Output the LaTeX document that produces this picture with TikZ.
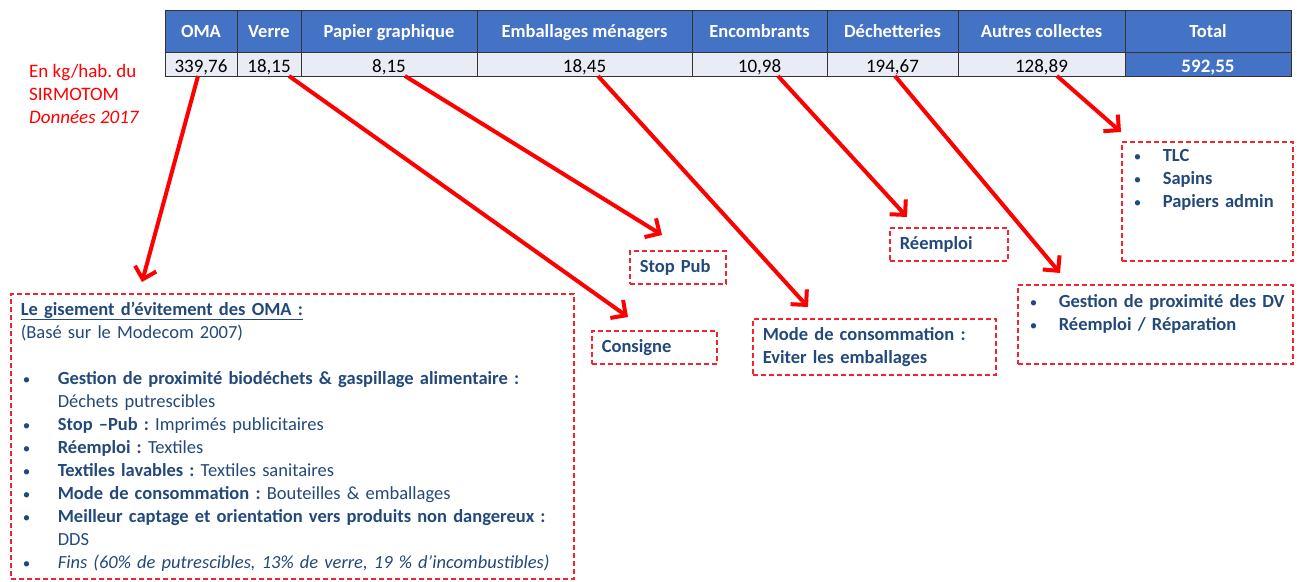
\documentclass[tikz,border=0pt]{standalone}
\usepackage{fontspec}
\setmainfont{Carlito}
\usepackage{tikz}
\usetikzlibrary{arrows.meta,calc,positioning}

\definecolor{hdrblue}{HTML}{4472C4}
\definecolor{rowgrey}{HTML}{E9EBF5}
\definecolor{navy}{HTML}{23497A}
\definecolor{boxred}{HTML}{F02530}

\newcommand{\itembul}[1]{\makebox[#1][l]{\hspace{2pt}{\fontsize{15}{15}\selectfont\mdseries\textbullet}}}
\frenchspacing

\begin{document}
\begin{tikzpicture}[x=1pt,y=-1pt,>={Straight Barb[length=11pt,width=22pt]},
      head cell/.style={draw=black!80,line width=0.8pt,fill=hdrblue,text=white,minimum height=42pt,inner sep=0pt,outer sep=0pt,text height=13pt,text depth=0pt,font=\fontsize{18.5}{22}\selectfont\bfseries},
      value cell/.style={draw=black!80,line width=0.8pt,fill=rowgrey,minimum height=24pt,inner sep=0pt,outer sep=0pt,text height=16pt,text depth=0pt,font=\fontsize{19}{22}\selectfont},
      note box/.style={draw=boxred,line width=1.6pt,dash pattern=on 5pt off 3pt,text=navy,align=left,inner xsep=10pt,inner ysep=0pt,anchor=north west,font=\fontsize{18.5}{23}\selectfont\bfseries}]

    \useasboundingbox (0,0) rectangle (1297,581);

    % table
    \node[head cell,minimum width=72pt] (h1) at (201,31) {OMA};
    \node[head cell,minimum width=64pt] (h2) [right=0pt of h1] {Verre};
    \node[head cell,minimum width=176pt] (h3) [right=0pt of h2] {Papier graphique};
    \node[head cell,minimum width=215pt] (h4) [right=0pt of h3] {Emballages ménagers};
    \node[head cell,minimum width=135pt] (h5) [right=0pt of h4] {Encombrants};
    \node[head cell,minimum width=131pt] (h6) [right=0pt of h5] {Déchetteries};
    \node[head cell,minimum width=167pt] (h7) [right=0pt of h6] {Autres collectes};
    \node[head cell,minimum width=166pt] (h8) [right=0pt of h7] {Total};

    \node[value cell,minimum width=72pt] (v1) [below=0pt of h1] {339,76};
    \node[value cell,minimum width=64pt] (v2) [below=0pt of h2] {18,15};
    \node[value cell,minimum width=176pt] (v3) [below=0pt of h3] {8,15};
    \node[value cell,minimum width=215pt] (v4) [below=0pt of h4] {18,45};
    \node[value cell,minimum width=135pt] (v5) [below=0pt of h5] {10,98};
    \node[value cell,minimum width=131pt] (v6) [below=0pt of h6] {194,67};
    \node[value cell,minimum width=167pt] (v7) [below=0pt of h7] {128,89};
    \node[value cell,minimum width=166pt,fill=hdrblue,text=white,font=\fontsize{19}{22}\selectfont\bfseries] (v8) [below=0pt of h8] {592,55};

    \node[text=red,align=left,inner sep=0pt,anchor=west,font=\fontsize{19}{23}\selectfont] (src) at (29,94) {En kg/hab. du\\SIRMOTOM\\\textit{Données 2017}};

    % boxes
    \node[note box,text width=543pt,minimum height=285pt,font=\fontsize{18.5}{23}\selectfont] (gisement) at (10,293) {\underline{\textbf{Le gisement d’évitement des OMA :}}\\
      (Basé sur le Modecom 2007)\\
      \mbox{}\\
      \itembul{37pt}\textbf{Gestion de proximité biodéchets \& gaspillage alimentaire :}\\
      \hspace*{37pt}Déchets putrescibles\\
      \itembul{37pt}\textbf{Stop –Pub :} Imprimés publicitaires\\
      \itembul{37pt}\textbf{Réemploi :} Textiles\\
      \itembul{37pt}\textbf{Textiles lavables :} Textiles sanitaires\\
      \itembul{37pt}\textbf{Mode de consommation :} Bouteilles \& emballages\\
      \itembul{37pt}\mbox{\textbf{Meilleur captage et orientation vers produits non dangereux :}}\\
      \hspace*{37pt}DDS\\
      \itembul{37pt}\mbox{\textit{Fins (60\% de putrescibles, 13\% de verre, 19 \% d’incombustibles)}}};
    \node[note box,minimum width=96pt,minimum height=33pt,text width=76pt] (stoppub) at (629,250) {Stop Pub};
    \node[note box,minimum width=125pt,minimum height=33pt,text width=105pt] (consigne) at (591,330) {Consigne};
    \node[note box,minimum width=243pt,minimum height=56pt,text width=223pt] (conso) at (752,318) {Mode de consommation :\\Eviter les emballages};
    \node[note box,minimum width=118pt,minimum height=33pt,text width=98pt] (reemploi) at (889,227) {Réemploi};
    \node[note box,minimum width=275pt,minimum height=79pt,text width=255pt] (dv) at (1017,284) {\itembul{31pt}\mbox{Gestion de proximité des DV}\\
      \itembul{31pt}\mbox{Réemploi / Réparation}\\ \mbox{}};
    \node[note box,minimum width=171pt,minimum height=119pt,text width=151pt] (autres) at (1121,141) {\itembul{31pt}TLC\\
      \itembul{31pt}Sapins\\ \itembul{31pt}Papiers admin\\ \mbox{}\\ \mbox{}};

    \path[every edge/.style={draw=red,line width=4pt,->}]
    ($(v1.south)+(-3,0)$) edge ($(gisement.north west)+(132,-11)$)
    ($(v2.south)+(20,0)$) edge ($(consigne.north west)+(37,-13)$)
    ($(v3.south)+(16,0)$) edge ($(stoppub.north west)+(33,-15)$)
    ($(v4.south)+(13.5,0)$) edge ($(conso.north west)+(56,-11)$)
    ($(v5.south)+(18.5,0)$) edge ($(reemploi.north west)+(18,-10)$)
    ($(v6.south)+(2.5,0)$) edge ($(dv.north west)+(43,-11)$)
    ($(v7.south)+(15.5,0)$) edge ($(autres.north west)+(0,-9)$);
    \end{tikzpicture}
\end{document}
